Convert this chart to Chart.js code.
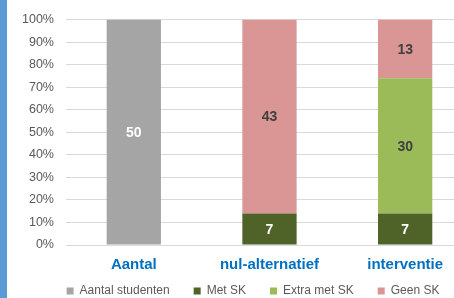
<!DOCTYPE html>
<html>
<head>
<meta charset="utf-8">
<script src="https://cdn.jsdelivr.net/npm/chart.js@4.4.1/dist/chart.umd.min.js"></script>
<style>
  html, body { margin: 0; padding: 0; background: #fff; overflow: hidden; }
  #wrap { position: relative; width: 454px; height: 298px; overflow: hidden; }
  #strip { position: absolute; left: 0; top: 0; width: 7px; height: 298px; background: #5B9BD5; z-index: 2; }
  #holder { position: absolute; left: 0; top: 0; width: 480px; height: 298px; }
</style>
</head>
<body>
<div id="wrap">
  <div id="strip"></div>
  <div id="holder"><canvas id="c" width="480" height="298"></canvas></div>
</div>
<script>
// counts per group, shown as 100% stacked
const categories = ['Aantal', 'nul-alternatief', 'interventie'];
const aantalStudenten = [50, 0, 0];
const metSK = [0, 7, 7];
const extraMetSK = [0, 0, 30];
const geenSK = [0, 43, 13];

const seriesNames = ['Aantal studenten', 'Met SK', 'Extra met SK', 'Geen SK'];
const seriesColors = ['#A5A5A5', '#4F6228', '#9BBB59', '#D99694'];
const labelColors = ['#ffffff', '#ffffff', '#404040', '#404040'];
const counts = [aantalStudenten, metSK, extraMetSK, geenSK];

const totals = categories.map((c, i) => counts.reduce((s, arr) => s + arr[i], 0));
const pct = arr => arr.map((v, i) => totals[i] ? v / totals[i] * 100 : 0);

const FONT = '"Liberation Sans", Arial, sans-serif';

const valueLabels = {
  id: 'valueLabels',
  afterDatasetsDraw(chart) {
    const ctx = chart.ctx;
    ctx.save();
    ctx.font = 'bold 14px ' + FONT;
    ctx.textAlign = 'center';
    ctx.textBaseline = 'middle';
    chart.data.datasets.forEach((ds, di) => {
      const meta = chart.getDatasetMeta(di);
      meta.data.forEach((bar, i) => {
        const v = counts[di][i];
        if (!v) return;
        ctx.fillStyle = labelColors[di];
        ctx.fillText(String(v), bar.x, (bar.y + bar.base) / 2 + 1);
      });
    });
    ctx.restore();
  }
};

// nudge the legend like Excel does (centred on the whole chart, not the plot)
const legendShift = {
  id: 'legendShift',
  afterLayout(chart) {
    const lg = chart.legend;
    if (!lg) return;
    const dx = 11.5, dy = -16;
    lg.left += dx; lg.right += dx;
    lg.top += dy; lg.bottom += dy;
  }
};

new Chart(document.getElementById('c'), {
  type: 'bar',
  data: {
    labels: categories,
    datasets: counts.map((arr, di) => ({
      label: seriesNames[di],
      data: pct(arr),
      backgroundColor: seriesColors[di],
      borderWidth: 0,
      categoryPercentage: 1,
      barPercentage: 0.4
    }))
  },
  options: {
    responsive: false,
    animation: false,
    layout: { padding: { left: 10, right: 7, top: 19, bottom: -25 } },
    plugins: {
      legend: {
        position: 'bottom',
        labels: {
          boxWidth: 7, boxHeight: 7, padding: 24,
          color: '#595959',
          font: { family: FONT, size: 12 }
        }
      },
      tooltip: { enabled: false }
    },
    scales: {
      x: {
        stacked: true,
        grid: { display: false },
        border: { display: false },
        ticks: {
          color: '#0070C0', padding: 3,
          font: { family: FONT, size: 15, weight: 'bold' }
        }
      },
      y: {
        stacked: true,
        min: 0, max: 100,
        grid: { color: '#D9D9D9', drawTicks: false },
        border: { display: false },
        ticks: {
          stepSize: 10, padding: 12, color: '#595959',
          font: { family: FONT, size: 12.5 },
          callback: v => v + '%'
        }
      }
    }
  },
  plugins: [valueLabels, legendShift]
});
</script>
</body>
</html>
